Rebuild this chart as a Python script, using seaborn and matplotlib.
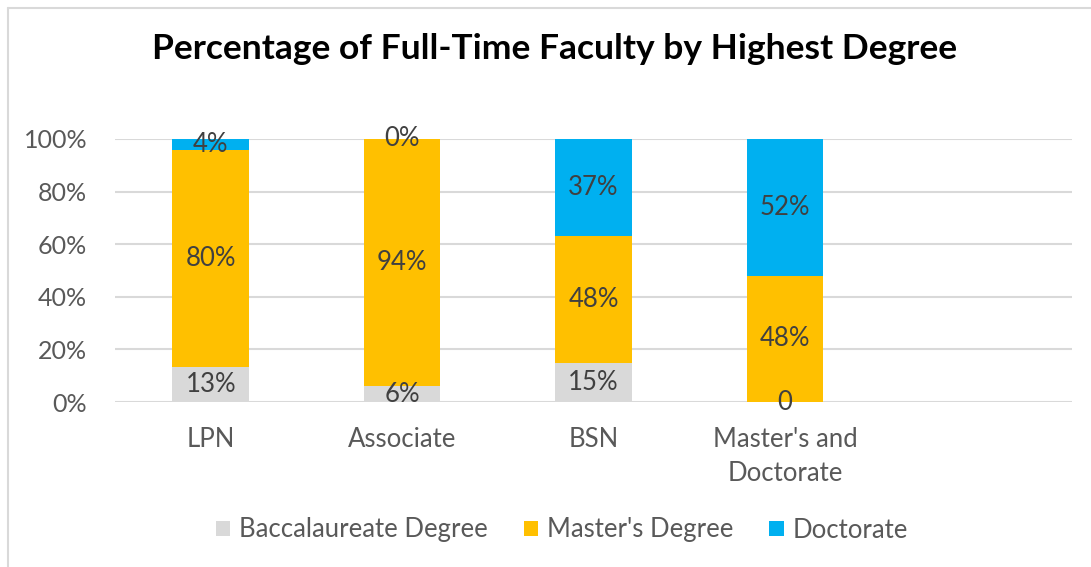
import numpy as np
import pandas as pd
import matplotlib
matplotlib.use("Agg")
import matplotlib.pyplot as plt
from matplotlib.lines import Line2D
from matplotlib.patches import Patch
import seaborn as sns

categories = ["LPN", "Associate", "BSN", "Master's and\nDoctorate", " "]
baccalaureate = [13, 6, 15, 0]
masters = [80, 94, 48, 48]
doctorate = [4, 0, 37, 52]
bacc_labels = ["13%", "6%", "15%", "0"]
masters_labels = ["80%", "94%", "48%", "48%"]
doct_labels = ["4%", "0%", "37%", "52%"]
series_names = ["Baccalaureate Degree", "Master's Degree", "Doctorate"]
colors = ["#D9D9D9", "#FFC000", "#00B0F0"]
ytick_labels = ["0%", "20%", "40%", "60%", "80%", "100%"]
title = "Percentage of Full-Time Faculty by Highest Degree"

sns.set_theme(style="white")
plt.rcParams["font.family"] = ["Lato", "DejaVu Sans"]

b = np.array(baccalaureate, float)
m = np.array(masters, float)
d = np.array(doctorate, float)
tot = b + m + d
bn, mn, dn = b / tot, m / tot, d / tot
c1 = bn
c2 = bn + mn
c3 = bn + mn + dn

df = pd.DataFrame({"cat": categories[:4], "c1": c1, "c2": c2, "c3": c3})

fig = plt.figure(figsize=(10.91, 5.67), dpi=100)
ax = fig.add_axes([115 / 1091, 1 - 402 / 567, (1072 - 115) / 1091, (402 - 139) / 567])

order = categories
for col, color in zip(["c3", "c2", "c1"], colors[::-1]):
    sns.barplot(data=df, x="cat", y=col, order=order, color=color, width=0.4,
                saturation=1, ax=ax, zorder=3, linewidth=0, edgecolor="none")

ax.set_ylim(0, 1)
ax.set_xlim(-0.5, 4.5)
ax.set_yticks(np.linspace(0, 1, 6))
ax.set_yticklabels(ytick_labels)
ax.yaxis.grid(True, color="#D9D9D9", linewidth=1.5, zorder=0)
ax.set_axisbelow(True)
for s in ax.spines.values():
    s.set_visible(False)
ax.set_xlabel("")
ax.set_ylabel("")
ax.tick_params(axis="both", length=0, labelcolor="#595959")
ax.tick_params(axis="y", labelsize=18, pad=20)
ax.tick_params(axis="x", labelsize=18.5, pad=18)
for t in ax.get_xticklabels():
    t.set_linespacing(1.45)

lab_color = "#404040"
fs = 18.5
for i in range(4):
    ax.text(i, c1[i] / 2, bacc_labels[i], ha="center", va="center", fontsize=fs,
            color=lab_color, zorder=5)
    ax.text(i, (c1[i] + c2[i]) / 2, masters_labels[i], ha="center", va="center",
            fontsize=fs, color=lab_color, zorder=5)
    ax.text(i, (c2[i] + c3[i]) / 2, doct_labels[i], ha="center", va="center",
            fontsize=fs, color=lab_color, zorder=5)

fig.text(555 / 1091, 1 - 49 / 567, title, ha="center", va="center",
         fontsize=25.5, fontweight="bold", color="black")

handles = [Patch(facecolor=c, edgecolor="none") for c in colors]
leg = fig.legend(handles, series_names, loc="center", ncol=3,
                 bbox_to_anchor=(562 / 1091, 1 - 530 / 567), frameon=False,
                 fontsize=18.5, handlelength=0.55, handleheight=0.55,
                 handletextpad=0.35, columnspacing=1.4)
for t in leg.get_texts():
    t.set_color("#595959")

fig.add_artist(Line2D([7.5 / 1091, 1], [1 - 7.5 / 567, 1 - 7.5 / 567],
                      transform=fig.transFigure, color="#D9D9D9", lw=1.5))
fig.add_artist(Line2D([7.5 / 1091, 7.5 / 1091], [0, 1 - 7.5 / 567],
                      transform=fig.transFigure, color="#D9D9D9", lw=1.5))

fig.savefig("out.png", dpi=100)
